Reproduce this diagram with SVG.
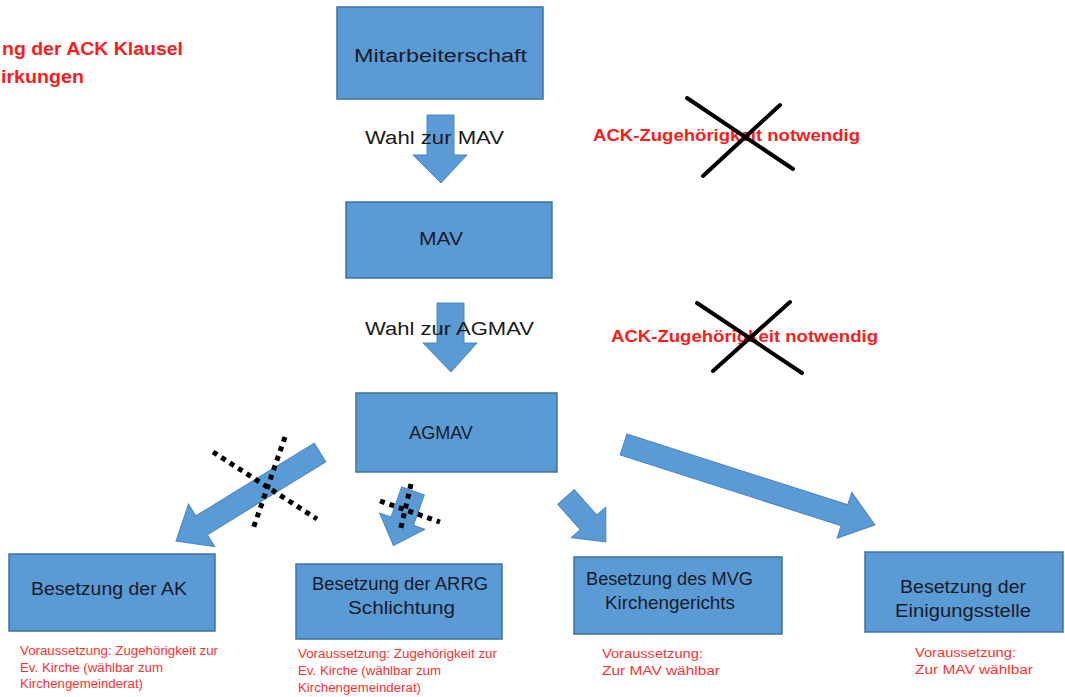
<svg xmlns="http://www.w3.org/2000/svg" width="1065" height="697" viewBox="0 0 1065 697">
<style>
.box{fill:#5b9bd5;stroke:#41719c;stroke-width:1.5}
.arr{fill:#5b9bd5;stroke:#4a86bf;stroke-width:1}
.bt{font-family:"Liberation Sans",Arial,sans-serif;font-size:18px;fill:#1a1a2a}
.lbl{font-family:"Liberation Sans",Arial,sans-serif;font-size:18px;fill:#1a1a1a}
.red{font-family:"Liberation Sans",Arial,sans-serif;font-size:16px;font-weight:bold;fill:#ff1a1a}
.title{font-family:"Liberation Sans",Arial,sans-serif;font-size:18px;font-weight:bold;fill:#ff1a1a}
.small{font-family:"Liberation Sans",Arial,sans-serif;font-size:12px;fill:#ff3030}
.x{stroke:#000;stroke-width:4;stroke-linecap:round}
.dx{stroke:#000;stroke-width:5;stroke-dasharray:5 5}
</style>
<rect width="1065" height="697" fill="#fff"/>
<g id="title">
<text class="title" x="2" y="55" textLength="181" lengthAdjust="spacingAndGlyphs">ng der ACK Klausel</text>
<text class="title" x="1" y="83" textLength="83" lengthAdjust="spacingAndGlyphs">irkungen</text>
</g>
<g id="connectors">
<polygon class="arr" points="427,115 454,115 454,155 467,155 441,183 413,155 427,155"/>
<polygon class="arr" points="437,303 464,303 464,343 477,343 451,372 423,343 437,343"/>
<polygon class="arr" transform="translate(320,452.5) rotate(148.4)" points="0,-11 139,-11 139,-25 169,0 139,25 139,11 0,11"/>
<polygon class="arr" transform="translate(413,491) rotate(109.7)" points="0,-12 32,-12 32,-24 58,0 32,24 32,12 0,12"/>
<polygon class="arr" transform="translate(566,497) rotate(48.4)" points="0,-11 34,-11 34,-23 60,0 34,23 34,11 0,11"/>
<polygon class="arr" transform="translate(623.5,444.5) rotate(17.75)" points="0,-11 232,-11 232,-24 264,0 232,24 232,11 0,11"/>
<text class="lbl" x="365" y="144" textLength="139" lengthAdjust="spacingAndGlyphs">Wahl zur MAV</text>
<text class="lbl" x="365" y="335" textLength="169" lengthAdjust="spacingAndGlyphs">Wahl zur AGMAV</text>
<line class="dx" x1="213" y1="452" x2="317" y2="519"/>
<line class="dx" x1="285" y1="437" x2="253" y2="529"/>
<line class="dx" x1="380" y1="501" x2="440" y2="522"/>
<line class="dx" x1="411" y1="484" x2="400" y2="532"/>
</g>
<g id="ack1">
<text class="red" x="593" y="141" textLength="267" lengthAdjust="spacingAndGlyphs">ACK-Zugehörigkeit notwendig</text>
<line class="x" x1="687" y1="98" x2="793" y2="169"/>
<line class="x" x1="780" y1="105" x2="703" y2="176"/>
</g>
<g id="ack2">
<text class="red" x="611" y="342" textLength="267" lengthAdjust="spacingAndGlyphs">ACK-Zugehörigkeit notwendig</text>
<line class="x" x1="697" y1="303" x2="802" y2="373"/>
<line class="x" x1="790" y1="302" x2="713" y2="371"/>
</g>
<g id="mitarbeiterschaft">
<rect class="box" x="337" y="7" width="206" height="92"/>
<text class="bt" x="354" y="62" textLength="173" lengthAdjust="spacingAndGlyphs">Mitarbeiterschaft</text>
</g>
<g id="mav">
<rect class="box" x="346" y="202" width="206" height="76"/>
<text class="bt" x="419" y="245" textLength="44" lengthAdjust="spacingAndGlyphs">MAV</text>
</g>
<g id="agmav">
<rect class="box" x="356" y="393" width="201" height="79"/>
<text class="bt" x="441" y="439" text-anchor="middle">AGMAV</text>
</g>
<g id="ak">
<rect class="box" x="9" y="554" width="206" height="77"/>
<text class="bt" x="31" y="595" textLength="156" lengthAdjust="spacingAndGlyphs">Besetzung der AK</text>
<text class="small" x="20" y="655" textLength="198" lengthAdjust="spacingAndGlyphs">Voraussetzung: Zugehörigkeit  zur</text>
<text class="small" x="20" y="672" textLength="143" lengthAdjust="spacingAndGlyphs">Ev. Kirche (wählbar zum</text>
<text class="small" x="20" y="688" textLength="123" lengthAdjust="spacingAndGlyphs">Kirchengemeinderat)</text>
</g>
<g id="arrg">
<rect class="box" x="296" y="564" width="206" height="75"/>
<text class="bt" x="312" y="590" textLength="176" lengthAdjust="spacingAndGlyphs">Besetzung der ARRG</text>
<text class="bt" x="348" y="614" textLength="107" lengthAdjust="spacingAndGlyphs">Schlichtung</text>
<text class="small" x="298" y="658" textLength="199" lengthAdjust="spacingAndGlyphs">Voraussetzung: Zugehörigkeit  zur</text>
<text class="small" x="298" y="675" textLength="143" lengthAdjust="spacingAndGlyphs">Ev. Kirche (wählbar zum</text>
<text class="small" x="298" y="692" textLength="123" lengthAdjust="spacingAndGlyphs">Kirchengemeinderat)</text>
</g>
<g id="mvg">
<rect class="box" x="574" y="557" width="208" height="77"/>
<text class="bt" x="586" y="585" textLength="167" lengthAdjust="spacingAndGlyphs">Besetzung des MVG</text>
<text class="bt" x="605" y="609" textLength="130" lengthAdjust="spacingAndGlyphs">Kirchengerichts</text>
<text class="small" x="602" y="658" textLength="101" lengthAdjust="spacingAndGlyphs">Voraussetzung:</text>
<text class="small" x="602" y="675" textLength="118" lengthAdjust="spacingAndGlyphs">Zur MAV wählbar</text>
</g>
<g id="einigungsstelle">
<rect class="box" x="865" y="552" width="198" height="80"/>
<text class="bt" x="900" y="593" textLength="126" lengthAdjust="spacingAndGlyphs">Besetzung der</text>
<text class="bt" x="895" y="617" textLength="136" lengthAdjust="spacingAndGlyphs">Einigungsstelle</text>
<text class="small" x="915" y="657" textLength="101" lengthAdjust="spacingAndGlyphs">Voraussetzung:</text>
<text class="small" x="915" y="674" textLength="118" lengthAdjust="spacingAndGlyphs">Zur MAV wählbar</text>
</g>
</svg>
